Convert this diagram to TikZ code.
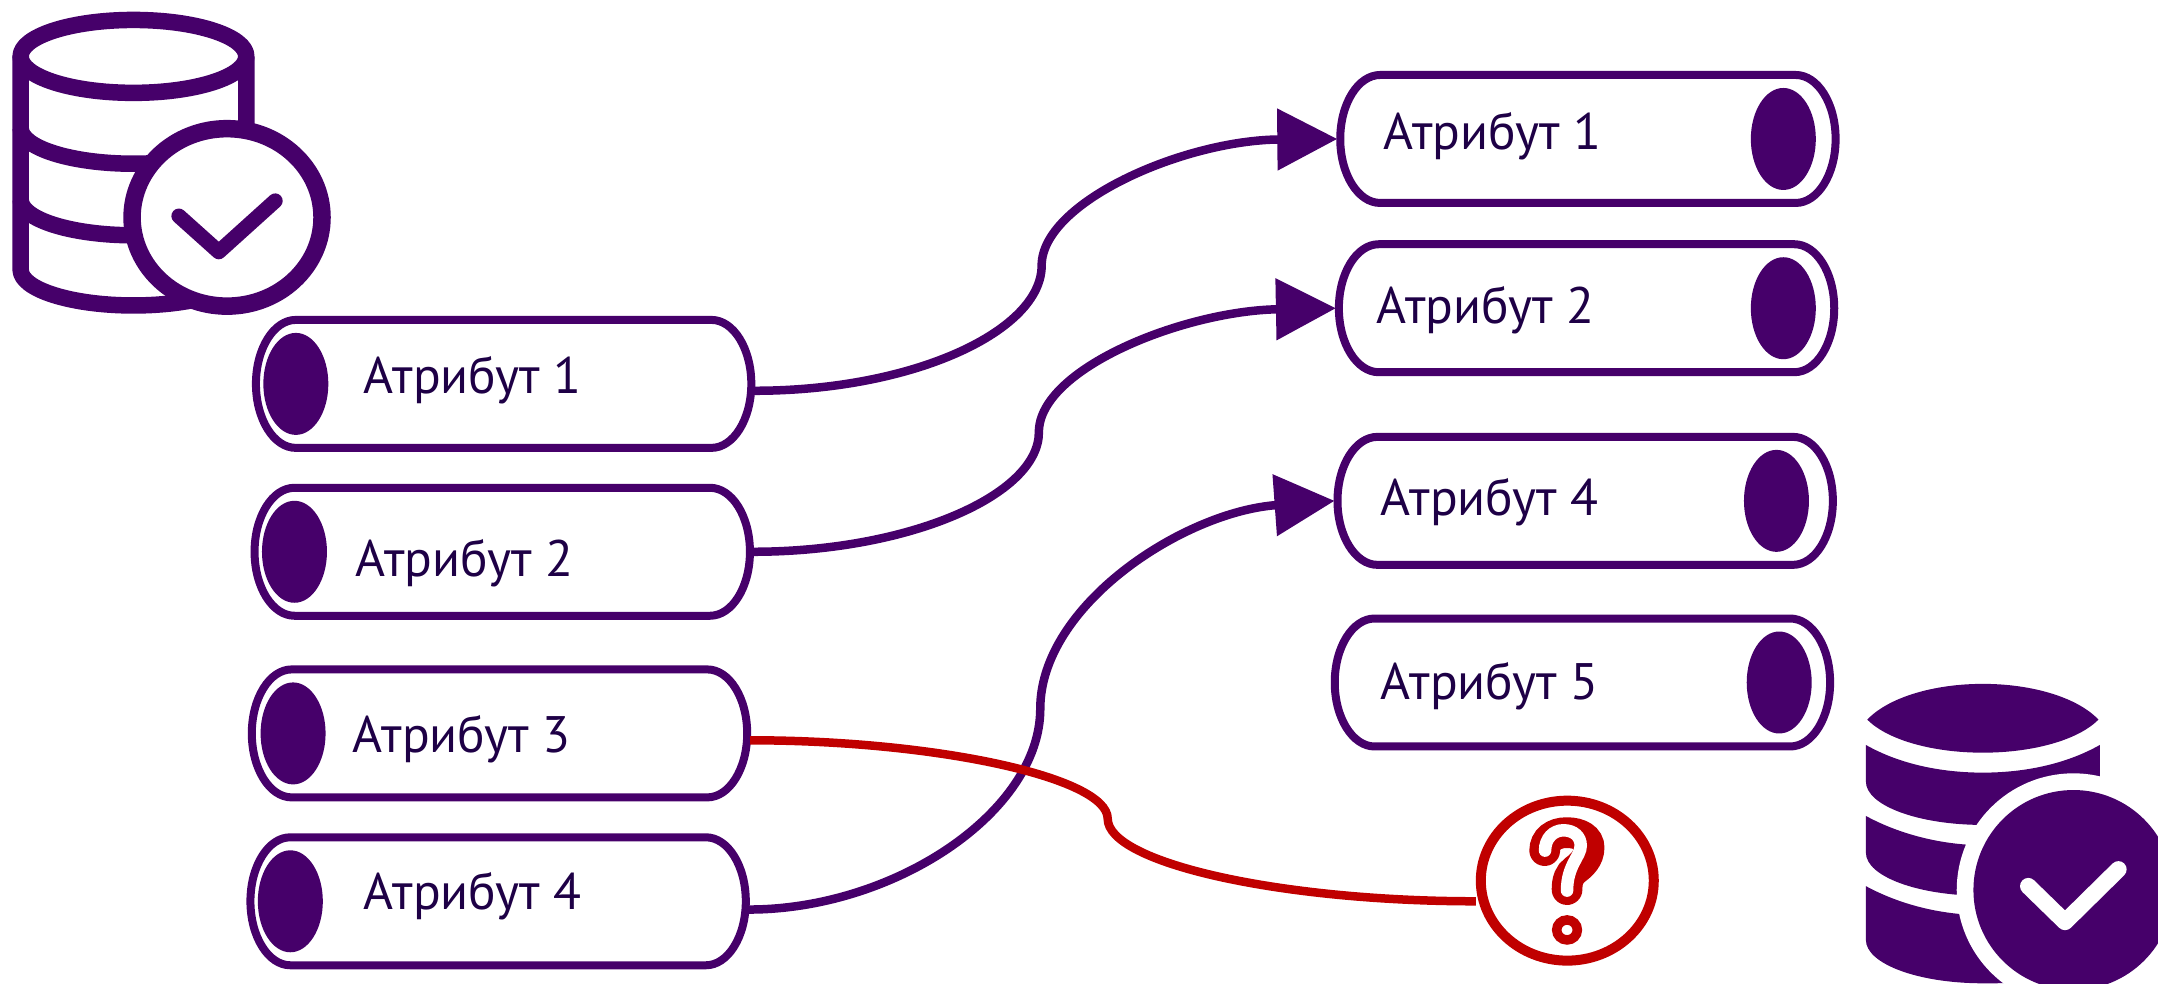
\documentclass[tikz,border=0pt]{standalone}
\usepackage{fontspec}
\setmainfont{PT Sans}
\usetikzlibrary{arrows.meta,shapes.geometric}
\definecolor{attrpurple}{HTML}{46006A}
\definecolor{attrink}{HTML}{1E0046}
\definecolor{attrred}{HTML}{C00000}
\tikzset{
  attrline/.style={draw=attrpurple,line width=0.08cm,fill=white},
  attrlink/.style={draw=attrpurple,line width=0.085cm},
  attrarrow/.style={-{Triangle[length=0.6cm,width=0.6cm]}},
  attrbox/.style={minimum width=5cm,minimum height=1.3cm,inner sep=0pt},
  attrdot/.style={ellipse,fill=attrpurple,minimum width=0.65cm,minimum height=1.02cm,inner sep=0pt},
  attrtext/.style={anchor=base west,inner sep=0pt,text=attrink,font=\fontsize{14.6}{14.6}\selectfont},
  dbline/.style={draw=attrpurple,line width=0.165cm,line join=round},
  qline/.style={draw=attrred,line cap=round,line width=0.307cm},
  qcore/.style={draw=white,line cap=round,line width=0.125cm},
}
\begin{document}
\begin{tikzpicture}[x=0.01376cm,y=-0.01376cm]
\useasboundingbox (0,0) rectangle (1568.3,714.4);
% outlined database
\draw[dbline,fill=white] (15,41) -- (15,196) arc[start angle=180,end angle=0,x radius=82,y radius=26] -- (179,41);
\draw[dbline] (97,41) ellipse[x radius=82,y radius=26.5];
\draw[dbline] (15,93) arc[start angle=180,end angle=0,x radius=82,y radius=26];
\draw[dbline] (15,145) arc[start angle=180,end angle=0,x radius=82,y radius=26];
\node[ellipse,draw=attrpurple,fill=white,line width=0.175cm,minimum width=1.9cm,minimum height=1.775cm,inner sep=0pt] (okbadge) at (165,158) {};
\draw[attrpurple,line width=0.15cm,line cap=round,line join=round] (130,157) -- (159,183) -- (200,146);
% attributes on both sides
\foreach \nm/\x/\y/\dx/\tx/\by/\txt in {
  la/366/279/-151/264/286/1, lb/365/401/-151/258/419/2, lc/363/533/-150/256/547/3, ld/362/655/-151/264/661/4,
  ra/1154/101/142/1005/109/1, rb/1153/224/143/1000/235/2, rc/1152/364/139/1003/375/4, rd/1150/496/143/1003/508/5}
{
  \node[attrbox] (\nm) at (\x,\y) {};
  \draw[attrline] (\x-151,\y-46.5) -- (\x+151,\y-46.5) arc[start angle=-90,end angle=90,x radius=29,y radius=46.5] -- (\x-151,\y+46.5) arc[start angle=90,end angle=270,x radius=29,y radius=46.5] -- cycle;
  \node[attrdot] (\nm dot) at (\x+\dx,\y) {};
  \node[attrtext] (\nm text) at (\tx,\by) {Атрибут \txt};
}
\coordinate (upa) at (757,193);
\coordinate (upb) at (755,314);
\coordinate (upc) at (756,515);
\coordinate (down) at (805,595);
% links
\draw[attrlink,attrarrow] (la.east |- 0,284) .. controls (665,284) and (757,240) .. (upa) .. controls (757,147) and (860,102) .. (ra.west);
\draw[attrlink,attrarrow] (lb.east) .. controls (660,401) and (755,360) .. (upb) .. controls (755,268) and (860,226) .. (rb.west);
\draw[attrlink,attrarrow] (ld.east |- 0,661) .. controls (650,661) and (756,590) .. (upc) .. controls (756,440) and (860,372) .. (rc.west);
% question mark
\node[ellipse,draw=attrred,fill=white,line width=0.1cm,minimum width=1.73cm,minimum height=1.6cm,inner sep=0pt] (qmark) at (1139,640) {};
\draw[attrlink,draw=attrred] (lc.east |- 0,538) .. controls (680,538) and (805,565) .. (down) .. controls (805,627) and (930,655) .. (qmark.west |- 0,655);
\begin{scope}[shift={(1097.4,585)},scale=0.2422]
\draw[qline] (104,137) .. controls (104,105) and (130,83) .. (170,83) .. controls (210,83) and (237,100) .. (237,128) .. controls (237,160) and (215,180) .. (195,195) .. controls (178,208) and (171,225) .. (171,254);
\draw[qcore] (105,137) .. controls (105,100) and (130,76) .. (160,76) .. controls (192,76) and (212,95) .. (212,122) .. controls (212,155) and (171,180) .. (171,257);
\draw[draw=attrred,line width=0.095cm] (171,375) ellipse[x radius=31,y radius=30];
\end{scope}
% filled database
\fill[attrpurple] (1357,523) .. controls (1372,507) and (1405,497) .. (1441,497) .. controls (1477,497) and (1510,507) .. (1525,523) .. controls (1510,538) and (1477,547) .. (1441,547) .. controls (1405,547) and (1372,538) .. (1357,523) -- cycle;
\fill[attrpurple] (1356,541.4) .. controls (1380,555) and (1410,561.5) .. (1441,561.5) .. controls (1472,561.5) and (1502,555) .. (1526,541.4) -- (1526,568) arc[start angle=0,end angle=180,x radius=85,y radius=31.5] -- cycle;
\fill[attrpurple] (1356,593) .. controls (1380,606) and (1410,614) .. (1441,614.3) -- (1441,651) arc[start angle=90,end angle=180,x radius=85,y radius=31.3] -- cycle;
\fill[attrpurple] (1356,644) .. controls (1380,657) and (1410,665) .. (1441,665) -- (1500,714.4) -- (1441,714.6) arc[start angle=90,end angle=180,x radius=85,y radius=31.5] -- cycle;
\node[circle,fill=white,minimum size=2.334cm,inner sep=0pt] (okring) at (1506.8,646.8) {};
\node[circle,fill=attrpurple,minimum size=2cm,inner sep=0pt] (okfill) at (1506.8,646.8) {};
\draw[white,line width=0.165cm,line cap=round,line join=round] (1474,644) -- (1500.7,670) -- (1539.5,631.8);
\end{tikzpicture}
\end{document}
